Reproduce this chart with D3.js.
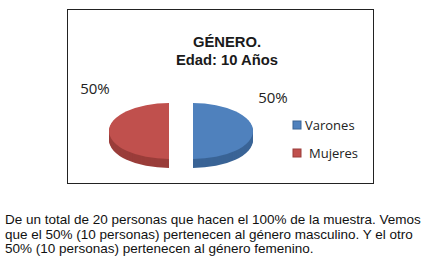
<!DOCTYPE html>
<html>
<head>
<meta charset="utf-8">
<script src="https://cdn.jsdelivr.net/npm/d3@7"></script>
<style>
  body { margin: 0; background: #fff; }
  svg { display: block; }
</style>
</head>
<body>
<svg id="chart"></svg>
<script>
let categories = ["Varones", "Mujeres"];
let counts = [10, 10];
let percentLabels = ["50%", "50%"];
let titleLines = ["GÉNERO.", "Edad: 10 Años"];
let captionLines = [
  "De un total de 20 personas que hacen el 100% de la muestra. Vemos",
  "que el 50% (10 personas) pertenecen al género masculino. Y el otro",
  "50% (10 personas) pertenecen al género femenino."
];
let topColors = ["#4F81BD", "#C0504D"];
let sideColors = ["#3A6496", "#9A3D3A"];

function getConfig() {
  let width = 427;
  let height = 270;
  let box = { x: 67.5, y: 9.5, w: 306, h: 174 };
  let pie = { cx: 181, cy: 131, rx: 60, ry: 28, depth: 9, explode: 12 };
  let svg = d3.select("#chart").attr("width", width).attr("height", height);
  return { width, height, box, pie, svg };
}

function drawFrame(config) {
  let { svg, box } = config;
  svg.append("rect")
    .attr("x", box.x).attr("y", box.y)
    .attr("width", box.w).attr("height", box.h)
    .attr("fill", "#fff")
    .attr("stroke", "#222")
    .attr("stroke-width", 1);

  svg.append("g").selectAll("text").data(titleLines).enter()
    .append("text")
    .attr("x", 227)
    .attr("y", (d, i) => 47 + i * 18)
    .attr("text-anchor", "middle")
    .style("font-family", "Liberation Sans, Arial, sans-serif")
    .style("font-weight", "bold")
    .style("font-size", "14.8px")
    .attr("fill", "#1a1a1a")
    .text(d => d);
}

function drawPie(config) {
  let { svg, pie } = config;
  let slices = d3.pie().sort(null).value(d => d)(counts);
  let arc = d3.arc().innerRadius(0).outerRadius(pie.rx);
  let k = pie.ry / pie.rx;
  let labelOffset = [{ dx: 80, y: -28 }, { dx: -74, y: -37 }];

  slices.forEach((s, i) => {
    let mid = (s.startAngle + s.endAngle) / 2;
    let dx = Math.sin(mid) * pie.explode;
    let g = svg.append("g")
      .attr("transform", `translate(${pie.cx + dx},${pie.cy})`);

    // side wall: stacked copies of the slice
    for (let t = pie.depth; t > 0; t--) {
      g.append("path")
        .attr("d", arc(s))
        .attr("transform", `translate(0,${t}) scale(1,${k})`)
        .attr("fill", sideColors[i]);
    }
    g.append("path")
      .attr("d", arc(s))
      .attr("transform", `scale(1,${k})`)
      .attr("fill", topColors[i]);

    g.append("text")
      .attr("x", labelOffset[i].dx)
      .attr("y", labelOffset[i].y)
      .attr("text-anchor", "middle")
      .style("font-family", "Open Sans, sans-serif")
      .style("font-size", "15px")
      .attr("fill", "#222")
      .text(percentLabels[i]);
  });
}

function drawLegend(config) {
  let { svg } = config;
  let legend = svg.append("g").attr("transform", "translate(293,125)");
  let items = legend.selectAll("g").data(categories).enter()
    .append("g")
    .attr("transform", (d, i) => `translate(0,${i * 28})`);
  items.append("rect")
    .attr("x", 0).attr("y", -4)
    .attr("width", 8).attr("height", 8)
    .attr("fill", (d, i) => topColors[i])
    .attr("stroke", (d, i) => sideColors[i])
    .attr("stroke-width", 1);
  items.append("text")
    .attr("x", (d, i) => i === 0 ? 12 : 16)
    .attr("y", 5)
    .style("font-family", "Open Sans, sans-serif")
    .style("font-size", "13px")
    .attr("fill", "#222")
    .text(d => d);
}

function drawCaption(config) {
  let { svg } = config;
  svg.append("g").selectAll("text").data(captionLines).enter()
    .append("text")
    .attr("x", 5)
    .attr("y", (d, i) => 224 + i * 14.5)
    .style("font-family", "Liberation Sans, Arial, sans-serif")
    .style("font-size", "13.5px")
    .attr("fill", "#111")
    .text(d => d);
}

let config = getConfig();
drawFrame(config);
drawPie(config);
drawLegend(config);
drawCaption(config);
</script>
</body>
</html>
